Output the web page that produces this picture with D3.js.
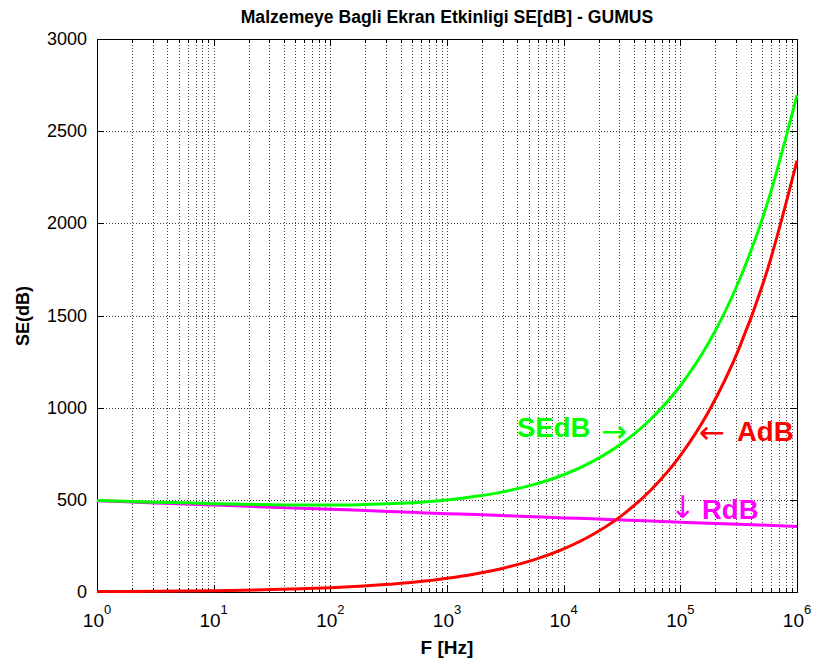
<!DOCTYPE html>
<html>
<head>
<meta charset="utf-8">
<script src="https://cdn.jsdelivr.net/npm/d3@7"></script>
<style>
  body { margin: 0; background: #fff; }
  text { font-family: "Liberation Sans", Arial, Helvetica, sans-serif; }
  text.arrow { font-family: "DejaVu Sans", sans-serif; }
</style>
</head>
<body>
<svg id="chart" width="815" height="663"></svg>
<script>
// frequency as log10 exponent (1 Hz .. 1 MHz)
const freqExp = [0, 0.25, 0.5, 0.75, 1, 1.25, 1.5, 1.75, 2, 2.25, 2.5, 2.75, 3,
  3.25, 3.5, 3.75, 4, 4.25, 4.5, 4.75, 5, 5.25, 5.5, 5.75, 6];
// absorption loss
const adb = [2.3, 3.1, 4.2, 5.5, 7.4, 9.9, 13, 17.6, 23, 31, 42, 55, 74,
  99, 132, 176, 234, 312, 416, 555, 740, 987, 1316, 1755, 2340];
// reflection loss
const rdb = [495, 489, 483, 478, 472, 466, 460, 454, 449, 443, 437, 431, 425,
  420, 414, 408, 402, 397, 391, 385, 379, 373, 367, 362, 356];
// total shielding effectiveness
const sedb = [497, 492, 487, 484, 479, 476, 473, 472, 472, 474, 479, 486, 499,
  519, 546, 584, 636, 709, 807, 940, 1119, 1360, 1683, 2117, 2696];

const yTicks = [0, 500, 1000, 1500, 2000, 2500, 3000];
const xDecades = [0, 1, 2, 3, 4, 5, 6];

const svg = d3.select("#chart");
const pLeft = 97, pRight = 797, pTop = 39, pBottom = 592;

const x = d3.scaleLog().domain([1, 1e6]).range([pLeft, pRight]);
const y = d3.scaleLinear().domain([0, 3000]).range([pBottom, pTop]);

// minor + major frequencies for grid
const minorFreqs = [];
xDecades.slice(0, -1).forEach(e => {
  for (let m = 2; m <= 9; m++) minorFreqs.push(m * Math.pow(10, e));
});
const majorFreqs = xDecades.map(e => Math.pow(10, e));

const grid = svg.append("g")
  .attr("stroke", "#444")
  .attr("stroke-width", 1)
  .attr("stroke-dasharray", "1,2")
  .attr("shape-rendering", "crispEdges");

grid.selectAll(".vg")
  .data(minorFreqs.concat(majorFreqs.slice(1, -1)))
  .join("line")
  .attr("x1", d => Math.round(x(d)) + 0.5)
  .attr("x2", d => Math.round(x(d)) + 0.5)
  .attr("y1", pTop)
  .attr("y2", pBottom);

grid.selectAll(".hg")
  .data(yTicks.slice(1, -1))
  .join("line")
  .attr("x1", pLeft)
  .attr("x2", pRight)
  .attr("y1", d => Math.round(y(d)) + 0.5)
  .attr("y2", d => Math.round(y(d)) + 0.5);

// tick marks (inward, both sides)
const ticks = svg.append("g")
  .attr("stroke", "#000")
  .attr("stroke-width", 1)
  .attr("shape-rendering", "crispEdges");

ticks.selectAll(".mt")
  .data(minorFreqs)
  .join("g")
  .each(function (d) {
    const xx = Math.round(x(d)) + 0.5;
    d3.select(this).append("line").attr("x1", xx).attr("x2", xx).attr("y1", pTop).attr("y2", pTop + 4);
    d3.select(this).append("line").attr("x1", xx).attr("x2", xx).attr("y1", pBottom).attr("y2", pBottom - 4);
  });

ticks.selectAll(".Mt")
  .data(majorFreqs)
  .join("g")
  .each(function (d) {
    const xx = Math.round(x(d)) + 0.5;
    d3.select(this).append("line").attr("x1", xx).attr("x2", xx).attr("y1", pTop).attr("y2", pTop + 7);
    d3.select(this).append("line").attr("x1", xx).attr("x2", xx).attr("y1", pBottom).attr("y2", pBottom - 7);
  });

ticks.selectAll(".yt")
  .data(yTicks)
  .join("g")
  .each(function (d) {
    const yy = Math.round(y(d)) + 0.5;
    d3.select(this).append("line").attr("x1", pLeft).attr("x2", pLeft + 7).attr("y1", yy).attr("y2", yy);
    d3.select(this).append("line").attr("x1", pRight).attr("x2", pRight - 7).attr("y1", yy).attr("y2", yy);
  });

// frame
svg.append("rect")
  .attr("x", pLeft + 0.5)
  .attr("y", pTop + 0.5)
  .attr("width", pRight - pLeft)
  .attr("height", pBottom - pTop)
  .attr("fill", "none")
  .attr("stroke", "#000")
  .attr("stroke-width", 1)
  .attr("shape-rendering", "crispEdges");

// curves
const line = vals => d3.line()
  .x((d, i) => x(Math.pow(10, freqExp[i])))
  .y(d => y(d))
  .curve(d3.curveMonotoneX)(vals);

const series = [
  { name: "RdB", vals: rdb, color: "#ff00ff" },
  { name: "SEdB", vals: sedb, color: "#00ff00" },
  { name: "AdB", vals: adb, color: "#ff0000" }
];

svg.append("g")
  .selectAll("path")
  .data(series)
  .join("path")
  .attr("d", d => line(d.vals))
  .attr("fill", "none")
  .attr("stroke", d => d.color)
  .attr("stroke-width", 3);

// y tick labels
svg.append("g")
  .selectAll("text")
  .data(yTicks)
  .join("text")
  .attr("x", 87)
  .attr("y", d => y(d) + 6)
  .attr("text-anchor", "end")
  .attr("font-size", 18)
  .text(d => d);

// x tick labels 10^n
const xl = svg.append("g")
  .selectAll("text")
  .data(xDecades)
  .join("text")
  .attr("x", d => x(Math.pow(10, d)))
  .attr("y", 627)
  .attr("text-anchor", "middle")
  .attr("font-size", 19);
xl.append("tspan").text("10");
xl.append("tspan").attr("dy", -13).attr("font-size", 13).text(d => d);

// title and axis labels
svg.append("text")
  .attr("x", 447)
  .attr("y", 23)
  .attr("text-anchor", "middle")
  .attr("font-size", 17.6)
  .attr("font-weight", "bold")
  .text("Malzemeye Bagli Ekran Etkinligi SE[dB] - GUMUS");

svg.append("text")
  .attr("x", 447)
  .attr("y", 654)
  .attr("text-anchor", "middle")
  .attr("font-size", 19)
  .attr("font-weight", "bold")
  .text("F [Hz]");

svg.append("text")
  .attr("transform", "translate(29,316) rotate(-90)")
  .attr("text-anchor", "middle")
  .attr("font-size", 18)
  .attr("font-weight", "bold")
  .text("SE(dB)");

// in-plot annotations: label text + thin arrow glyph
const notes = [
  { label: "SEdB", color: "#00ff00", lx: 517, ly: 437, arrow: "→", ax: 601, ay: 442, anchor: "start" },
  { label: "AdB", color: "#ff0000", lx: 737, ly: 441, arrow: "←", ax: 699, ay: 443, anchor: "start" },
  { label: "RdB", color: "#ff00ff", lx: 702, ly: 519, arrow: "↓", ax: 683, ay: 518, anchor: "middle" }
];

const noteG = svg.append("g");
noteG.selectAll(".lab")
  .data(notes)
  .join("text")
  .attr("x", d => d.lx)
  .attr("y", d => d.ly)
  .attr("fill", d => d.color)
  .attr("font-size", 27.5)
  .attr("font-weight", "bold")
  .text(d => d.label);

noteG.selectAll(".arrow")
  .data(notes)
  .join("text")
  .attr("class", "arrow")
  .attr("x", d => d.ax)
  .attr("y", d => d.ay)
  .attr("text-anchor", d => d.anchor)
  .attr("fill", d => d.color)
  .attr("font-size", 31)
  .text(d => d.arrow);
</script>
</body>
</html>
